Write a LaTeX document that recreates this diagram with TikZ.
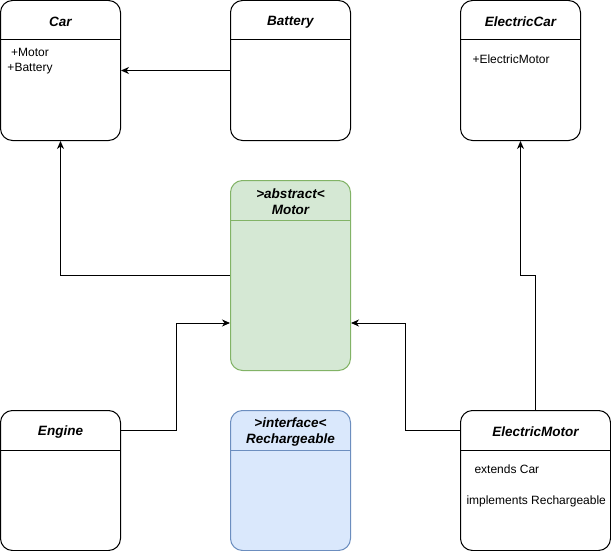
\documentclass[tikz,border=0pt]{standalone}
\usepackage{fontspec}
\setmainfont{Liberation Sans}
\usetikzlibrary{arrows.meta,positioning}
\definecolor{motorfill}{HTML}{D5E8D4}
\definecolor{motorline}{HTML}{82B366}
\definecolor{ifacefill}{HTML}{DAE8FC}
\definecolor{ifaceline}{HTML}{6C8EBF}
\begin{document}
\begin{tikzpicture}[x=1pt, y=-1pt, line width=1pt,
  every node/.style={font=\fontsize{12}{15}\selectfont},
  classbox/.style={rectangle, rounded corners=12pt, draw=black, fill=white, minimum width=120pt, minimum height=140pt, anchor=north west, inner sep=0pt},
  classtitle/.style={rectangle, minimum width=120pt, minimum height=40pt, inner sep=0pt, align=center, yshift=-1.5pt, font=\fontsize{13.5}{16}\selectfont\bfseries\itshape},
  members/.style={inner sep=0pt, anchor=base west},
  link/.style={-{Stealth[length=8pt,width=7pt,inset=2.5pt]}, draw=black, line width=1pt}]
\useasboundingbox (0,0) rectangle (611,551);

% top row
\node (car) [classbox] at (0,0) {};
\node (cartitle) [classtitle, below=0pt of car.north] {Car};
\draw ([yshift=-40pt]car.north west) -- ([yshift=-40pt]car.north east);
\node (carmembers) [members, align=center] at (7,72) {+Motor\\+Battery};

\node (battery) [classbox] at (230,0) {};
\node (batterytitle) [classtitle, below=0pt of battery.north] {Battery};
\draw ([yshift=-40pt]battery.north west) -- ([yshift=-40pt]battery.north east);

\node (electriccar) [classbox] at (460,0) {};
\node (electriccartitle) [classtitle, below=0pt of electriccar.north] {ElectricCar};
\draw ([yshift=-40pt]electriccar.north west) -- ([yshift=-40pt]electriccar.north east);
\node (electriccarmembers) [members] at (472,64) {+ElectricMotor};

% abstract class in the middle
\node (motor) [classbox, draw=motorline, fill=motorfill, minimum height=190pt] at (230,180) {};
\node (motortitle) [classtitle, below=0pt of motor.north] {>abstract<\\Motor};
\draw[motorline] ([yshift=-40pt]motor.north west) -- ([yshift=-40pt]motor.north east);

% bottom row
\node (engine) [classbox] at (0,410) {};
\node (enginetitle) [classtitle, below=0pt of engine.north] {Engine};
\draw ([yshift=-40pt]engine.north west) -- ([yshift=-40pt]engine.north east);

\node (rechargeable) [classbox, draw=ifaceline, fill=ifacefill] at (230,410) {};
\node (rechargeabletitle) [classtitle, below=0pt of rechargeable.north] {>interface<\\Rechargeable};
\draw[ifaceline] ([yshift=-40pt]rechargeable.north west) -- ([yshift=-40pt]rechargeable.north east);

\node (electricmotor) [classbox, minimum width=150pt] at (460,410) {};
\node (electricmotortitle) [classtitle, minimum width=150pt, below=0pt of electricmotor.north] {ElectricMotor};
\draw ([yshift=-40pt]electricmotor.north west) -- ([yshift=-40pt]electricmotor.north east);
\node (electricmotormembers) [members, align=left] at (466,504) {\hspace{8pt}extends Car\\[16pt]implements Rechargeable};

% connectors
\draw[link] (battery.west) -- (car.east);
\draw[link] (motor.west) -| (car.south);
\draw[link] ([yshift=-20pt]engine.north east) -- ++(55,0) |- ([yshift=-47.5pt]motor.west);
\draw[link] ([yshift=-20pt]electricmotor.north west) -- ++(-55,0) |- ([yshift=-47.5pt]motor.east);
\draw[link] (electricmotor.north) -- ++(0,-135) -- ++(-15,0) -- (electriccar.south);

\end{tikzpicture}
\end{document}
